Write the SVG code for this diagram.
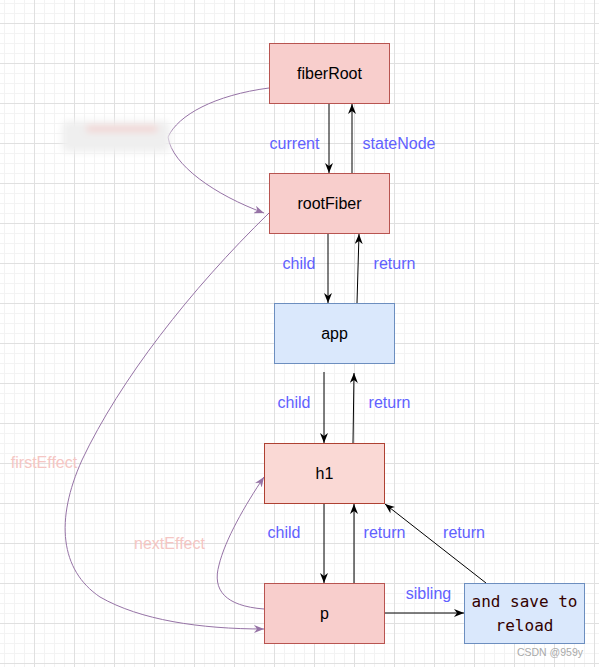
<svg xmlns="http://www.w3.org/2000/svg" width="599" height="667" viewBox="0 0 599 667">
<defs>
<pattern id="minor" width="10" height="10" patternUnits="userSpaceOnUse" x="4" y="3">
<path d="M0,0.5 H10 M0.5,0 V10" stroke="#f3f3f3" stroke-width="1" fill="none"/>
</pattern>
<pattern id="major" width="40" height="40" patternUnits="userSpaceOnUse" x="34" y="23">
<path d="M0,0.5 H40 M0.5,0 V40" stroke="#e0e0e0" stroke-width="1" fill="none"/>
</pattern>
<marker id="ab" markerUnits="userSpaceOnUse" markerWidth="10" markerHeight="8" viewBox="0 0 10 8" refX="10" refY="4" orient="auto">
<path d="M0,0 L10,4 L0,8 L3,4 z" fill="#000"/>
</marker>
<marker id="ap" markerUnits="userSpaceOnUse" markerWidth="10" markerHeight="8" viewBox="0 0 10 8" refX="10" refY="4" orient="auto">
<path d="M0,0 L10,4 L0,8 L3,4 z" fill="#9673a6"/>
</marker>
<filter id="blur" x="-30%" y="-80%" width="160%" height="260%">
<feGaussianBlur stdDeviation="3.5"/>
</filter>
</defs>
<style>
.red{fill:#f8cecc;stroke:#b85450;stroke-width:1}
.h1{fill:#fad9d5;stroke:#ae4132;stroke-width:1}
.blue{fill:#dae8fc;stroke:#6c8ebf;stroke-width:1}
.lbl{font-family:"Liberation Sans",Arial,sans-serif;font-size:16px;fill:#000;text-anchor:middle}
.el{font-family:"Liberation Sans",Arial,sans-serif;font-size:16px;fill:#6161ff;text-anchor:middle}
.pl{font-family:"Liberation Sans",Arial,sans-serif;font-size:16px;fill:#f5c6c3;text-anchor:middle}
.mono{font-family:"DejaVu Sans Mono","Liberation Mono",monospace;font-size:16px;fill:#330000;text-anchor:middle}
.b{stroke:#000;stroke-width:1;fill:none;marker-end:url(#ab)}
.p{stroke:#9673a6;stroke-width:1;fill:none;marker-end:url(#ap)}
</style>
<rect width="599" height="667" fill="#fff"/>
<rect width="599" height="667" fill="url(#minor)"/>
<rect width="599" height="667" fill="url(#major)"/>

<g id="connectors">
<line class="b" x1="329" y1="103" x2="329" y2="173"/>
<line class="b" x1="352" y1="173" x2="352" y2="104"/>
<line class="b" x1="328" y1="233" x2="328" y2="303"/>
<line class="b" x1="357" y1="303" x2="359" y2="234"/>
<line class="b" x1="324" y1="372" x2="324" y2="443"/>
<line class="b" x1="353" y1="443" x2="354" y2="373"/>
<line class="b" x1="324" y1="503" x2="324" y2="583"/>
<line class="b" x1="354" y1="583" x2="354" y2="504"/>
<line class="b" x1="384" y1="613" x2="464" y2="613"/>
<line class="b" x1="486" y1="583" x2="385" y2="504"/>
<path class="p" d="M269,88 C215,95 178,115 168,137 C172,165 215,195 264,213"/>
<path class="p" d="M269,213 C190,290 120,380 82,460 C55,520 60,570 100,597 C140,620 200,629 264,629"/>
<path class="p" d="M264,609 C225,606 212,590 219,565 C225,540 245,505 264,477"/>
</g>

<g id="blurred-label" filter="url(#blur)">
<rect x="62" y="121" width="108" height="31" rx="6" fill="#efefef"/>
<rect x="86" y="126" width="72" height="6" rx="3" fill="#f3d2d0"/>
</g>

<g id="fiberRoot"><rect class="red" x="269.5" y="43.5" width="120" height="60"/><text class="lbl" x="329.5" y="79">fiberRoot</text></g>
<g id="rootFiber"><rect class="red" x="269.5" y="173.5" width="120" height="60"/><text class="lbl" x="329.5" y="209">rootFiber</text></g>
<g id="app"><rect class="blue" x="274.5" y="303.5" width="120" height="60"/><text class="lbl" x="334.5" y="339">app</text></g>
<g id="h1"><rect class="h1" x="264.5" y="443.5" width="120" height="60"/><text class="lbl" x="324.5" y="479">h1</text></g>
<g id="p"><rect class="red" x="264.5" y="583.5" width="120" height="60"/><text class="lbl" x="324.5" y="619">p</text></g>
<g id="reload"><rect class="blue" x="464.5" y="583.5" width="120" height="60"/><text class="mono" x="524.5" y="607">and save to</text><text class="mono" x="524.5" y="631">reload</text></g>

<g id="labels">
<text class="el" x="294.5" y="148.5">current</text>
<text class="el" x="399" y="148.5">stateNode</text>
<text class="el" x="299" y="268.5">child</text>
<text class="el" x="394.5" y="268.5">return</text>
<text class="el" x="294" y="407.5">child</text>
<text class="el" x="389.5" y="407.5">return</text>
<text class="el" x="284" y="538">child</text>
<text class="el" x="384.5" y="538">return</text>
<text class="el" x="464" y="538">return</text>
<text class="el" x="428.5" y="598.5">sibling</text>
<text class="pl" x="44" y="467.5">firstEffect</text>
<text class="pl" x="169.5" y="548.5">nextEffect</text>
</g>
<text x="583" y="656" font-family="'Liberation Sans',Arial,sans-serif" font-size="10.5" fill="#aaaaaa" text-anchor="end">CSDN @959y</text>
</svg>
